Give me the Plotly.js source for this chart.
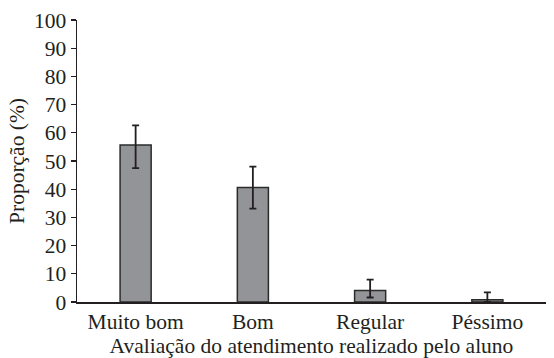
<!DOCTYPE html>
<html>
<head>
<meta charset="utf-8">
<script src="https://cdn.plot.ly/plotly-3.0.1.min.js"></script>
<style>
html,body{margin:0;padding:0;background:#fff;}
#chart{width:554px;height:358px;}
#chart text{font-family:"Liberation Serif","Times New Roman",serif !important;}
</style>
</head>
<body>
<div id="chart"></div>
<script>
const categories = ["Muito bom", "Bom", "Regular", "Péssimo"];
const proportions = [55.7, 40.6, 4.1, 0.8];
const errorPlus = [6.9, 7.4, 3.8, 2.6];
const errorMinus = [8.2, 7.5, 2.5, 0.8];
const yTicks = [0, 10, 20, 30, 40, 50, 60, 70, 80, 90, 100];

const ink = "#231f20";
const fontFamily = "Liberation Serif";
const fs = 21.5;

function serifText() {
  document.querySelectorAll("#chart text").forEach(t => {
    t.setAttribute("font-family", "Liberation Serif");
    t.style.setProperty("font-family", "'Liberation Serif', serif", "important");
  });
}

Plotly.newPlot("chart", [{
  type: "bar",
  x: categories,
  y: proportions,
  width: 0.265,
  marker: {color: "#939497", line: {color: "#2b2b2b", width: 1.5}},
  error_y: {type: "data", symmetric: false, array: errorPlus, arrayminus: errorMinus,
            color: ink, thickness: 1.8, width: 3.5},
  hoverinfo: "skip"
}], {
  width: 554, height: 358,
  margin: {l: 77, r: 8, t: 20, b: 56},
  paper_bgcolor: "#fff", plot_bgcolor: "#fff",
  showlegend: false,
  font: {family: fontFamily, size: fs, color: ink},
  xaxis: {
    type: "category",
    range: [-0.5, 3.5],
    showline: true, linecolor: ink, linewidth: 1.5,
    ticks: "", showgrid: false, zeroline: false,
    tickfont: {family: fontFamily, size: fs, color: ink},
    title: {text: "Avaliação do atendimento realizado pelo aluno", standoff: 1,
            font: {family: fontFamily, size: fs, color: ink}}
  },
  yaxis: {
    range: [0, 100],
    tickvals: yTicks,
    showline: true, linecolor: ink, linewidth: 1.5,
    ticks: "outside", ticklen: 5, tickwidth: 1.2, tickcolor: ink,
    showgrid: false, zeroline: false,
    tickfont: {family: fontFamily, size: fs, color: ink},
    title: {text: "Proporção (%)", standoff: 3,
            font: {family: fontFamily, size: fs, color: ink}}
  }
}, {displayModeBar: false, staticPlot: true}).then(serifText);
</script>
</body>
</html>
